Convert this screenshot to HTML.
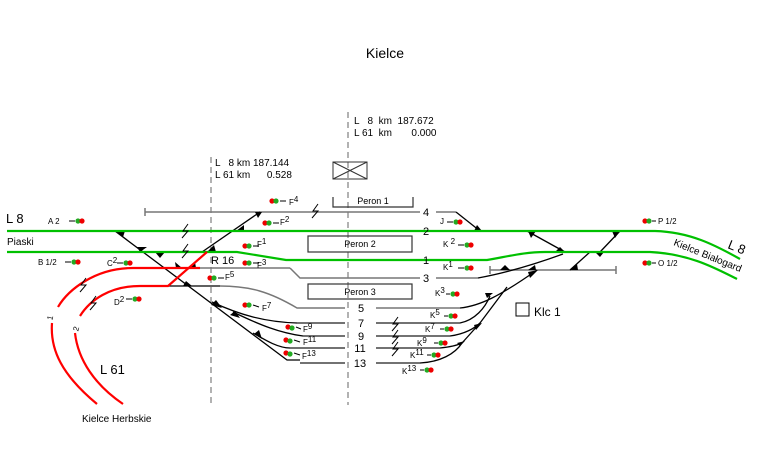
<!DOCTYPE html>
<html><head><meta charset="utf-8"><style>
html,body{margin:0;padding:0;background:#fff;}
svg{display:block;font-family:"Liberation Sans",Arial,sans-serif;}
.pre{white-space:pre;}
</style></head><body>
<svg width="759" height="451" viewBox="0 0 759 451" xmlns="http://www.w3.org/2000/svg">
<rect width="759" height="451" fill="#fff"/>
<text x="385" y="58" font-size="14" text-anchor="middle">Kielce</text>
<line x1="348" y1="112" x2="348" y2="405" stroke="#999" stroke-width="1.5" stroke-dasharray="6,4"/>
<line x1="211" y1="157" x2="211" y2="405" stroke="#999" stroke-width="1.5" stroke-dasharray="6,4"/>
<g font-size="10" class="pre">
<text x="354" y="124" xml:space="preserve">L   8  km  187.672</text>
<text x="354" y="136" xml:space="preserve">L 61  km       0.000</text>
<text x="215" y="166" xml:space="preserve">L   8 km 187.144</text>
<text x="215" y="178" xml:space="preserve">L 61 km      0.528</text>
</g>
<rect x="333" y="162" width="34" height="17" fill="none" stroke="#333" stroke-width="1"/>
<line x1="333" y1="162" x2="367" y2="179" stroke="#333"/><line x1="333" y1="179" x2="367" y2="162" stroke="#333"/>
<path d="M333 197 V207 H413 V197" fill="none" stroke="#333" stroke-width="1.2"/>
<text x="373" y="204" font-size="9" text-anchor="middle">Peron 1</text>
<rect x="308" y="236" width="104" height="16" fill="none" stroke="#333" stroke-width="1.2"/>
<text x="360" y="247" font-size="9" text-anchor="middle">Peron 2</text>
<rect x="308" y="284" width="104" height="15" fill="none" stroke="#333" stroke-width="1.2"/>
<text x="360" y="295" font-size="9" text-anchor="middle">Peron 3</text>
<g fill="none" stroke="#777" stroke-width="1.5">
<line x1="145" y1="212" x2="420" y2="212"/><line x1="145" y1="208" x2="145" y2="216"/>
<line x1="200" y1="268" x2="290" y2="268"/><path d="M290 268 L300 278 H420"/>
<line x1="490" y1="270" x2="616" y2="270"/><line x1="490" y1="266" x2="490" y2="274"/><line x1="616" y1="266" x2="616" y2="274"/>
<path d="M436 278 H478"/>
<path d="M220 286 C250 286 270 292 297 308 H345"/><line x1="376" y1="308" x2="460" y2="308"/>
<line x1="436" y1="212" x2="456" y2="212"/>
</g>
<g fill="none" stroke="#444" stroke-width="1.5">
<path d="M297 323 H345"/><line x1="376" y1="323" x2="460" y2="323"/>
<path d="M303 336 H345"/><line x1="376" y1="336" x2="450" y2="336"/>
<path d="M290 348 H345"/><line x1="376" y1="348" x2="440" y2="348"/>
<path d="M300 363 H345"/><line x1="376" y1="363" x2="420" y2="363"/>
</g>
<g fill="none" stroke="#000" stroke-width="1.3">
<path d="M115 231 L287 360 H300"/>
<path d="M202 252 L260 212"/>
<path d="M168 286 H220"/>
<path d="M212 302 C240 315 265 322 297 323"/>
<path d="M233 312 C260 325 280 333 303 336"/>
<path d="M253 333 C265 340 278 348 290 348"/>
<path d="M456 212 L480 231"/>
<path d="M527 231 L565 252"/><path d="M620 231 L600 252"/><path d="M590 252 L570 270"/>
<path d="M478 278 C500 274 530 266 563 254"/>
<path d="M460 308 C480 306 500 296 537 270"/>
<path d="M460 323 C475 320 485 308 490 296"/>
<path d="M450 336 C465 334 475 328 480 323 L507 287"/>
<path d="M440 348 C450 347 458 345 462 343 L480 323"/>
<path d="M420 363 C440 362 455 354 462 343"/>
</g>
<g fill="#000">
<path d="M116 231 L125 231 L123 237Z"/><path d="M137 247 L147 247 L140 252Z"/><path d="M155 252 L165 252 L160 258Z"/>
<path d="M176 268 L182 268 L175 262Z"/><path d="M190 268 L196 268 L195 262Z"/><path d="M183 286 L192 286 L186 281Z"/>
<path d="M207 252 L216 252 L214 245Z"/><path d="M236 231 L244 231 L244 225Z"/><path d="M255 212 L262 212 L258 218Z"/>
<path d="M211 305 L222 308 L216 300Z"/><path d="M230 315 L240 318 L235 311Z"/><path d="M254 334 L262 339 L259 330Z"/>
<path d="M474 231 L482 231 L477 225Z"/><path d="M528 231 L536 231 L531 238Z"/><path d="M555 252 L565 252 L560 247Z"/>
<path d="M612 231 L620 231 L615 238Z"/><path d="M595 252 L604 252 L600 257Z"/><path d="M570 270 L578 270 L577 264Z"/>
<path d="M500 270 L510 270 L505 265Z"/><path d="M528 270 L536 270 L535 265Z"/><path d="M528 272 L538 270 L530 278Z"/>
<path d="M487 298 L493 293 L485 293Z"/><path d="M476 330 L482 323 L474 325Z"/><path d="M460 346 L465 341 L457 343Z"/>
</g>
<g fill="none" stroke="#00c000" stroke-width="2.2">
<path d="M7 231 H655 C690 232 715 245 740 259"/>
<path d="M7 252 H237 L286 260 H487 C510 256 525 252 545 252 H650 C690 254 715 268 737 279"/>
</g>
<g fill="none" stroke="#f00" stroke-width="2.2">
<path d="M58 307 C68 290 95 268 133 268 H200"/>
<path d="M52 323 C50 350 62 375 97 404"/>
<path d="M80 316 C90 300 110 286 140 286 H168 L207 252"/>
<path d="M75 333 C78 360 95 385 123 404"/>
</g>
<g fill="none" stroke="#000" stroke-width="1">
<path d="M318 204 L313 211 L318 211 L312 218"/>
<path d="M188 224 L183 231 L188 231 L182 238"/>
<path d="M188 244 L183 251 L188 251 L182 258"/>
<path d="M86 278 L81 285 L86 285 L80 292"/>
<path d="M96 296 L91 303 L96 303 L90 310"/>
<path d="M398 317 L393 324 L398 324 L392 331"/>
<path d="M398 330 L393 337 L398 337 L392 344"/>
<path d="M398 342 L393 349 L398 349 L392 356"/>
</g>
<g font-size="11" text-anchor="middle">
<text x="426" y="216">4</text><text x="426" y="235">2</text><text x="426" y="264">1</text><text x="426" y="282">3</text>
<text x="361" y="312">5</text><text x="361" y="327">7</text><text x="361" y="340">9</text><text x="360" y="352">11</text><text x="360" y="367">13</text>
</g>
<g font-size="13"><text x="6" y="223">L 8</text><text x="100" y="374">L 61</text></g>
<text x="7" y="245" font-size="10">Piaski</text>
<text x="82" y="422" font-size="10">Kielce Herbskie</text>
<text x="211" y="264" font-size="11">R 16</text>
<rect x="516" y="303" width="13" height="13" fill="none" stroke="#000"/>
<text x="534" y="316" font-size="12">Klc 1</text>
<text x="673" y="245" font-size="10" transform="rotate(22 673 245)">Kielce Białogard</text>
<text x="727" y="248" font-size="13" transform="rotate(22 727 248)">L 8</text>
<g stroke="#000" stroke-width="1">
<line x1="69" y1="221" x2="75" y2="221"/><line x1="65" y1="262" x2="71" y2="262"/><line x1="117" y1="263" x2="123" y2="263"/><line x1="126" y1="299" x2="132" y2="299"/>
<line x1="280" y1="201" x2="286" y2="201"/><line x1="273" y1="223" x2="279" y2="223"/><line x1="253" y1="246" x2="259" y2="246"/><line x1="253" y1="263" x2="259" y2="263"/>
<line x1="218" y1="278" x2="224" y2="278"/><line x1="253" y1="305" x2="259" y2="307"/><line x1="296" y1="327" x2="301" y2="329"/><line x1="294" y1="340" x2="300" y2="342"/><line x1="294" y1="353" x2="300" y2="355"/>
<line x1="447" y1="222" x2="453" y2="222"/><line x1="458" y1="245" x2="464" y2="245"/><line x1="458" y1="268" x2="464" y2="268"/><line x1="446" y1="294" x2="450" y2="294"/>
<line x1="444" y1="316" x2="448" y2="316"/><line x1="440" y1="329" x2="444" y2="329"/><line x1="434" y1="343" x2="438" y2="343"/><line x1="427" y1="355" x2="431" y2="355"/><line x1="420" y1="370" x2="424" y2="370"/>
<line x1="652" y1="221" x2="656" y2="221"/><line x1="652" y1="263" x2="656" y2="263"/>
</g>
<g stroke="none">
<circle cx="78" cy="221" r="2.6" fill="#2a2"/><circle cx="82" cy="221" r="2.6" fill="#e00"/>
<circle cx="74" cy="262" r="2.6" fill="#2a2"/><circle cx="78" cy="262" r="2.6" fill="#e00"/>
<circle cx="126" cy="263" r="2.6" fill="#2a2"/><circle cx="130" cy="263" r="2.6" fill="#e00"/>
<circle cx="135" cy="299" r="2.6" fill="#2a2"/><circle cx="139" cy="299" r="2.6" fill="#e00"/>
<circle cx="456" cy="222" r="2.6" fill="#2a2"/><circle cx="460" cy="222" r="2.6" fill="#e00"/>
<circle cx="467" cy="245" r="2.6" fill="#2a2"/><circle cx="471" cy="245" r="2.6" fill="#e00"/>
<circle cx="467" cy="268" r="2.6" fill="#2a2"/><circle cx="471" cy="268" r="2.6" fill="#e00"/>
<circle cx="453" cy="294" r="2.6" fill="#2a2"/><circle cx="457" cy="294" r="2.6" fill="#e00"/>
<circle cx="451" cy="316" r="2.6" fill="#2a2"/><circle cx="455" cy="316" r="2.6" fill="#e00"/>
<circle cx="447" cy="329" r="2.6" fill="#2a2"/><circle cx="451" cy="329" r="2.6" fill="#e00"/>
<circle cx="441" cy="343" r="2.6" fill="#2a2"/><circle cx="445" cy="343" r="2.6" fill="#e00"/>
<circle cx="434" cy="355" r="2.6" fill="#2a2"/><circle cx="438" cy="355" r="2.6" fill="#e00"/>
<circle cx="427" cy="370" r="2.6" fill="#2a2"/><circle cx="431" cy="370" r="2.6" fill="#e00"/>
<circle cx="272" cy="201" r="2.6" fill="#e00"/><circle cx="276" cy="201" r="2.6" fill="#2a2"/>
<circle cx="265" cy="223" r="2.6" fill="#e00"/><circle cx="269" cy="223" r="2.6" fill="#2a2"/>
<circle cx="245" cy="246" r="2.6" fill="#e00"/><circle cx="249" cy="246" r="2.6" fill="#2a2"/>
<circle cx="245" cy="263" r="2.6" fill="#e00"/><circle cx="249" cy="263" r="2.6" fill="#2a2"/>
<circle cx="210" cy="278" r="2.6" fill="#e00"/><circle cx="214" cy="278" r="2.6" fill="#2a2"/>
<circle cx="245" cy="305" r="2.6" fill="#e00"/><circle cx="249" cy="305" r="2.6" fill="#2a2"/>
<circle cx="288" cy="327" r="2.6" fill="#e00"/><circle cx="292" cy="328" r="2.6" fill="#2a2"/>
<circle cx="286" cy="340" r="2.6" fill="#e00"/><circle cx="290" cy="341" r="2.6" fill="#2a2"/>
<circle cx="286" cy="353" r="2.6" fill="#e00"/><circle cx="290" cy="354" r="2.6" fill="#2a2"/>
<circle cx="645" cy="221" r="2.6" fill="#e00"/><circle cx="649" cy="221" r="2.6" fill="#2a2"/>
<circle cx="645" cy="263" r="2.6" fill="#e00"/><circle cx="649" cy="263" r="2.6" fill="#2a2"/>
</g>
<g font-size="8">
<text x="48" y="224">A 2</text><text x="38" y="265">B 1/2</text><text x="107" y="266">C<tspan dy="-3">2</tspan></text><text x="114" y="305">D<tspan dy="-3">2</tspan></text>
<text x="289" y="205">F<tspan dy="-3">4</tspan></text><text x="280" y="225">F<tspan dy="-3">2</tspan></text><text x="257" y="247">F<tspan dy="-3">1</tspan></text><text x="257" y="268">F<tspan dy="-3">3</tspan></text>
<text x="225" y="280">F<tspan dy="-3">5</tspan></text><text x="262" y="311">F<tspan dy="-3">7</tspan></text><text x="303" y="332">F<tspan dy="-3">9</tspan></text><text x="303" y="345">F<tspan dy="-3">11</tspan></text><text x="302" y="359">F<tspan dy="-3">13</tspan></text>
<text x="440" y="224">J</text><text x="443" y="247">K <tspan dy="-3">2</tspan></text><text x="443" y="270">K<tspan dy="-3">1</tspan></text><text x="435" y="296">K<tspan dy="-3">3</tspan></text>
<text x="430" y="318">K<tspan dy="-3">5</tspan></text><text x="425" y="332">K<tspan dy="-3">7</tspan></text><text x="417" y="346">K<tspan dy="-3">9</tspan></text><text x="410" y="358">K<tspan dy="-3">11</tspan></text><text x="402" y="374">K<tspan dy="-3">13</tspan></text>
<text x="658" y="224">P 1/2</text><text x="658" y="266">O 1/2</text>
<text x="47" y="320" transform="rotate(-75 50 317)">1</text><text x="73" y="331" transform="rotate(-75 76 328)">2</text>
</g>
</svg>
</body></html>
